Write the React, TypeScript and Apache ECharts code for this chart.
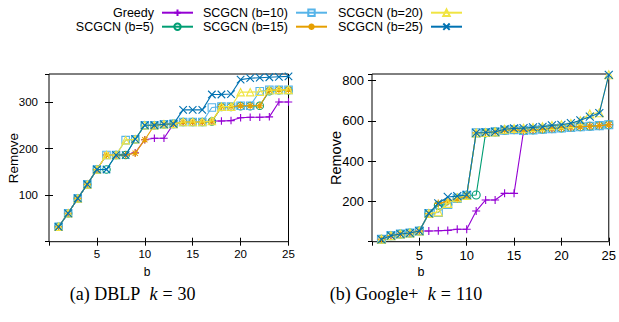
import React, { useEffect, useRef } from 'react';
import * as echarts from 'echarts';

const B = [1, 2, 3, 4, 5, 6, 7, 8, 9, 10, 11, 12, 13, 14, 15, 16, 17, 18, 19, 20, 21, 22, 23, 24, 25];
const NAMES = ['Greedy', 'SCGCN (b=5)', 'SCGCN (b=10)', 'SCGCN (b=15)', 'SCGCN (b=20)', 'SCGCN (b=25)'];

// (a) DBLP k = 30
const dblpGreedy = [32, 61, 93, 123, 155, 186, 186, 186, 191, 219, 222, 222, 253, 257, 257, 257, 259, 259, 260, 266, 267, 267, 268, 300, 300];
const dblpB5 = [32, 61, 93, 123, 155, 155, 186, 186, 220, 250, 250, 252, 253, 257, 257, 257, 258, 289, 289, 291, 291, 292, 323, 325, 325];
const dblpB10 = [32, 61, 93, 123, 155, 186, 186, 218, 220, 250, 250, 252, 253, 257, 257, 257, 288, 290, 290, 292, 292, 323, 326, 326, 326];
const dblpB15 = [32, 61, 93, 123, 155, 186, 186, 186, 190, 219, 250, 252, 253, 257, 257, 257, 258, 290, 290, 292, 292, 292, 325, 326, 326];
const dblpB20 = [32, 61, 93, 123, 155, 186, 186, 218, 220, 250, 250, 252, 253, 257, 257, 257, 259, 290, 290, 321, 321, 322, 325, 326, 326];
const dblpB25 = [32, 61, 93, 123, 155, 155, 186, 186, 220, 250, 250, 252, 253, 283, 283, 283, 316, 316, 317, 348, 351, 352, 353, 354, 355];

// (b) Google+ k = 110
const gGreedy = [12, 30, 38, 43, 53, 53, 54, 56, 62, 62, 152, 207, 207, 240, 240, 548, 555, 558, 561, 564, 567, 570, 573, 576, 580];
const gB5 = [12, 30, 38, 43, 53, 140, 180, 185, 215, 230, 232, 540, 545, 553, 556, 552, 555, 558, 561, 564, 567, 570, 573, 576, 580];
const gB10 = [12, 30, 38, 43, 53, 140, 145, 185, 215, 230, 540, 542, 545, 553, 556, 552, 555, 558, 561, 564, 567, 570, 573, 576, 580];
const gB15 = [12, 30, 38, 43, 53, 140, 190, 200, 212, 228, 540, 542, 545, 553, 556, 552, 555, 558, 561, 564, 567, 570, 573, 576, 580];
const gB20 = [12, 30, 38, 43, 53, 140, 148, 190, 218, 230, 540, 542, 545, 558, 562, 563, 567, 570, 577, 580, 586, 600, 634, 640, 828];
const gB25 = [12, 30, 38, 43, 53, 140, 190, 222, 226, 232, 540, 542, 545, 558, 562, 563, 567, 570, 577, 580, 588, 602, 620, 638, 828];

const DBLP = [dblpGreedy, dblpB5, dblpB10, dblpB15, dblpB20, dblpB25];
const GPLUS = [gGreedy, gB5, gB10, gB15, gB20, gB25];

const COLORS = ['#9400D3', '#009E73', '#56B4E9', '#E69F00', '#F0E442', '#0072B2'];
const SYMBOLS = [
  'path://M0,5L10,5M5,0L5,10',
  'path://M5,0A5,5,0,1,1,5,10A5,5,0,1,1,5,0Z',
  'path://M0,0L10,0L10,10L0,10Z',
  'path://M0,5L10,5M5,0L5,10M1.5,1.5L8.5,8.5M8.5,1.5L1.5,8.5',
  'path://M5,0L10,9L0,9Z',
  'path://M0,0L10,10M10,0L0,10',
];

const SANS = 'Liberation Sans, Arial, sans-serif';
const SERIF = 'Liberation Serif, Times New Roman, serif';

function makeSeries(idx: number, values: number[], grid: number, size: number) {
  return {
    type: 'line',
    name: NAMES[idx],
    xAxisIndex: grid * 2,
    yAxisIndex: grid * 2,
    data: B.map((b, i) => [b, values[i]]),
    symbol: SYMBOLS[idx],
    symbolSize: size,
    showAllSymbol: true,
    z: 2 + idx,
    lineStyle: { color: COLORS[idx], width: 1.1 },
    itemStyle: { color: 'rgba(0,0,0,0)', borderColor: COLORS[idx], borderWidth: 1.1 },
    emphasis: { disabled: true },
  };
}

function App() {
  const ref = useRef<HTMLDivElement>(null);
  useEffect(() => {
    if (!ref.current) return;
    const chart = echarts.init(ref.current, undefined, { renderer: 'svg' });
    const tick = { show: true, inside: true, length: 4, lineStyle: { color: '#000', width: 1 } };
    const mkX = (grid: number, pos: string, showLabel: boolean, fs: number, margin: number) => ({
      type: 'value', gridIndex: grid, position: pos, min: 0, max: 25, interval: 5,
      axisLine: { show: false }, axisTick: tick, splitLine: { show: false },
      axisLabel: { show: showLabel, showMinLabel: false, fontSize: fs, fontFamily: SANS, color: '#000', margin },
    });
    const mkY = (grid: number, pos: string, showLabel: boolean, max: number, interval: number, fs: number, margin: number) => ({
      type: 'value', gridIndex: grid, position: pos, min: 0, max, interval,
      axisLine: { show: false }, axisTick: tick, splitLine: { show: false },
      axisLabel: { show: showLabel, showMinLabel: false, showMaxLabel: false, fontSize: fs, fontFamily: SANS, color: '#000', margin },
    });

    const legendPos = [
      { right: 619 - 194, top: 5.7 }, { right: 619 - 194, top: 19.7 },
      { right: 619 - 328, top: 5.7 }, { right: 619 - 328, top: 19.7 },
      { right: 619 - 463, top: 5.7 }, { right: 619 - 463, top: 19.7 },
    ];
    const legends = NAMES.map((n, i) => ({
      data: [n], ...legendPos[i], orient: 'horizontal', align: 'right', padding: 0,
      itemWidth: 31, itemHeight: 8, selectedMode: false,
      textStyle: { fontSize: 12.5, fontFamily: SANS, color: '#000', lineHeight: 14, padding: [0, 3, 0, 0] },
    }));

    const series: any[] = [];
    DBLP.forEach((v, i) => series.push(makeSeries(i, v, 0, 7.5)));
    GPLUS.forEach((v, i) => series.push(makeSeries(i, v, 1, 8)));

    const capRich = {
      n: { fontSize: 18, fontFamily: SERIF, color: '#000' },
      i: { fontSize: 18, fontFamily: SERIF, fontStyle: 'italic', color: '#000', padding: [0, 0, 0, 5] },
      e: { fontSize: 18, fontFamily: SERIF, color: '#000', padding: [0, 5, 0, 5] },
    };

    chart.setOption({
      animation: false,
      backgroundColor: '#fff',
      legend: legends,
      grid: [
        { left: 49, width: 239.5, top: 74, height: 167.7, show: true, borderColor: '#000', borderWidth: 1, backgroundColor: 'transparent' },
        { left: 372, width: 239.7, top: 74, height: 167.7, show: true, borderColor: '#000', borderWidth: 1, backgroundColor: 'transparent' },
      ],
      xAxis: [
        mkX(0, 'bottom', true, 11.5, 6), mkX(0, 'top', false, 11.5, 6),
        mkX(1, 'bottom', true, 13, 7), mkX(1, 'top', false, 13, 7),
      ],
      yAxis: [
        mkY(0, 'left', true, 360, 100, 11.5, 11), mkY(0, 'right', false, 360, 100, 11.5, 11),
        mkY(1, 'left', true, 832, 200, 13, 8), mkY(1, 'right', false, 832, 200, 13, 8),
      ],
      series,
      graphic: [
        { type: 'text', x: 13.5, y: 158, rotation: Math.PI / 2, style: { text: 'Remove', fontSize: 13.5, fontFamily: SANS, fill: '#000', align: 'center', verticalAlign: 'middle' } },
        { type: 'text', x: 336, y: 158, rotation: Math.PI / 2, style: { text: 'Remove', fontSize: 14.5, fontFamily: SANS, fill: '#000', align: 'center', verticalAlign: 'middle' } },
        { type: 'text', x: 147, y: 271.5, style: { text: 'b', fontSize: 12, fontFamily: SANS, fill: '#000', align: 'center', verticalAlign: 'middle' } },
        { type: 'text', x: 421, y: 271.5, style: { text: 'b', fontSize: 12.5, fontFamily: SANS, fill: '#000', align: 'center', verticalAlign: 'middle' } },
        { type: 'text', x: 132.5, y: 294, style: { text: '{n|(a) DBLP }{i|k}{e|=}{n|30}', rich: capRich, align: 'center', verticalAlign: 'middle' } },
        { type: 'text', x: 406, y: 294, style: { text: '{n|(b) Google+ }{i|k}{e|=}{n|110}', rich: capRich, align: 'center', verticalAlign: 'middle' } },
      ],
    });
    return () => chart.dispose();
  }, []);
  return <div ref={ref} style={{ position: 'absolute', left: 0, top: 0, width: 619, height: 322 }} />;
}

export default App;
